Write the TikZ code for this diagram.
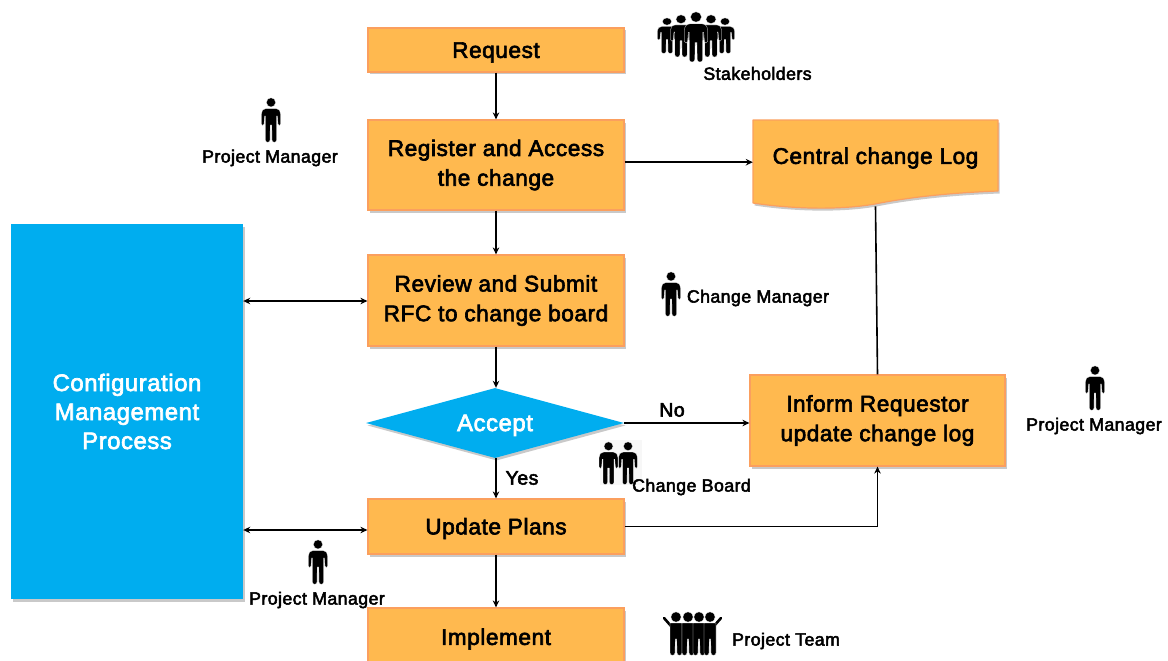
\documentclass[tikz,border=0pt]{standalone}
\usepackage{fontspec}
\setmainfont[AutoFakeBold=2.8,LetterSpace=2.5]{Liberation Sans}
\usetikzlibrary{shapes.geometric,shadows,arrows.meta,calc}
\definecolor{boxfill}{HTML}{FFB94F}
\definecolor{boxline}{HTML}{FB9F5E}
\definecolor{cyanblue}{HTML}{00ADEF}
\tikzset{
  softshadow/.style={drop shadow={shadow xshift=1.5pt,shadow yshift=-2.5pt,opacity=.3,fill=black!70}},
  flowbox/.style={rectangle,fill=boxfill,draw=boxline,line width=1.2pt,softshadow,align=center,font=\fontsize{22.6}{29.7}\selectfont\bfseries,text=black,inner sep=0pt,minimum width=256pt,execute at begin node={\rule{0pt}{20.5pt}}},
  twoline/.style={execute at begin node={\rule{0pt}{27pt}}},
  bluelabel/.style={font=\fontsize{23.8}{29}\selectfont\bfseries,text=white,align=center},
  rolelabel/.style={font=\fontsize{17.7}{18}\selectfont\bfseries,text=black,inner sep=0pt},
  yesno/.style={font=\fontsize{19.5}{22}\selectfont\bfseries,text=black,inner sep=0pt},
  link/.style={line width=1.6pt,black,-{Stealth[length=7pt,width=6.5pt]}},
  biglink/.style={line width=1.6pt,black,{Stealth[length=7pt,width=6.5pt]}-{Stealth[length=7pt,width=6.5pt]}},
  plain/.style={line width=1.6pt,black},
  person/.pic={
    \fill[black,draw=white,line width=.25pt]
      (0,0) ++(0,4.4) circle (4.6)
      (-5,10.5) -- (5,10.5) .. controls (8,10.5) and (9.6,13) .. (9.6,16)
      -- (9.6,26) .. controls (9.6,28) and (7,28) .. (7,26) -- (6.4,18) -- (5.6,18)
      -- (5.6,42) .. controls (5.6,45) and (1,45) .. (1,42) -- (.8,27) -- (-.8,27) -- (-1,42)
      .. controls (-1,45) and (-5.6,45) .. (-5.6,42) -- (-5.6,18) -- (-6.4,18) -- (-7,26)
      .. controls (-7,28) and (-9.6,28) .. (-9.6,26) -- (-9.6,16)
      .. controls (-9.6,13) and (-8,10.5) .. (-5,10.5) -- cycle;
  },
  teammate/.pic={
    \fill[black,draw=white,line width=.3pt]
      (0,0) ++(0,5) circle (5.2)
      (-6,11) -- (6,11) -- (6,41) .. controls (6,44) and (1,44) .. (1,41) -- (.7,27) -- (-.7,27) -- (-1,41)
      .. controls (-1,44) and (-6,44) .. (-6,41) -- cycle;
  }
}
\begin{document}
\begin{tikzpicture}[x=1pt,y=-1pt]
\useasboundingbox (0,0) rectangle (1168,661);
\clip (0,0) rectangle (1168,661);
% blocks
\node[flowbox,minimum height=44pt] (request) at (496,50) {Request};
\node[flowbox,twoline,minimum height=90pt] (register) at (496,165) {Register and Access\\the change};
\node[flowbox,twoline,minimum height=91pt] (review) at (496,300.5) {Review and Submit\\RFC to change board};
\node[diamond,aspect=3.7,fill=cyanblue,softshadow,inner sep=0pt,minimum width=258pt,minimum height=70pt,bluelabel,execute at begin node={\rule{0pt}{21pt}}] (accept) at (495,423) {Accept};
\node[flowbox,minimum height=55pt] (update) at (496,526.5) {Update Plans};
\node[flowbox,minimum height=58pt,execute at begin node={}] (implement) at (496,637) {Implement};
\node[flowbox,twoline,minimum width=255pt,minimum height=91pt] (inform) at (877.5,420.5) {Inform Requestor\\update change log};
\node[rectangle,fill=cyanblue,softshadow,minimum width=232pt,minimum height=375pt,inner sep=0pt,bluelabel] (config) at (127,411.5) {Configuration\\Management\\Process};
% central change log document shape
\path[fill=boxfill,draw=boxline,line width=1.2pt,softshadow,line join=round]
  (753,120) -- (998,120) -- (998,191) .. controls (945,193) and (905,198) .. (875,204)
  .. controls (835,211) and (785,208) .. (753,203) -- cycle;
\node[inner sep=0pt,minimum width=245pt,minimum height=86pt,font=\fontsize{22.6}{29}\selectfont\bfseries,text=black,anchor=north] (log) at (875.5,120) {\raisebox{15pt}{Central change Log}};
% connectors
\draw[link] (request) -- (register);
\draw[link] (register) -- (review);
\draw[link] (review) -- (review.south |- accept.north);
\draw[link] (accept.south -| update.north) -- (update);
\draw[link] (update) -- (implement);
\draw[link] ($(register.east |- log.west)+(0,-1)$) -- ($(log.west)+(0,-1)$);
\draw[link] (accept.east) -- (accept.east -| inform.west);
\draw[link] (update.east) -| (inform.south);
\draw[plain] (inform.north) -- (log.south);
\draw[biglink] ($(config.east |- review.west)+(0,.5)$) -- ($(review.west)+(0,.5)$);
\draw[biglink] ($(config.east |- update.west)+(0,3.5)$) -- ($(update.west)+(0,3.5)$);
% connector labels
\node[yesno] (yes) at (522,478) {Yes};
\node[yesno] (no) at (672,410) {No};
% stakeholders
\pic[xscale=1.0,yscale=.8] at (667,18) {person};
\pic[xscale=1.0,yscale=.8] at (725,18) {person};
\pic[xscale=1.1,yscale=.95] at (681,15) {person};
\pic[xscale=1.1,yscale=.95] at (711,15) {person};
\pic[xscale=1.2,yscale=1.13] at (696,12) {person};
\node[rolelabel] (stake) at (757.5,73.5) {Stakeholders};
% project manager, top
\pic at (271,98) {person};
\node[rolelabel] (pm1) at (270,158) {Project Manager};
% change manager
\pic at (671,272) {person};
\node[rolelabel] (cm) at (758,298) {Change Manager};
% project manager, right
\pic at (1095,366) {person};
\node[rolelabel] (pm2) at (1094,426) {Project Manager};
% change board
\fill[black!3] (600,440) rectangle (642,485);
\pic[xscale=.98,yscale=.96] at (608.5,442) {person};
\pic[xscale=.98,yscale=.96] at (628,442) {person};
\node[rolelabel] (cb) at (691.5,487) {Change Board};
% project manager, bottom
\pic at (318,540) {person};
\node[rolelabel] (pm3) at (317,600) {Project Manager};
% project team
\draw[line width=2.6pt,black,line cap=round] (664,618) -- (671,626);
\draw[line width=2.6pt,black,line cap=round] (721,618) -- (714,626);
\pic at (676,612) {teammate};
\pic at (688,612) {teammate};
\pic at (699,612) {teammate};
\pic at (710,612) {teammate};
\node[rolelabel] (team) at (786,641) {Project Team};
\end{tikzpicture}
\end{document}
